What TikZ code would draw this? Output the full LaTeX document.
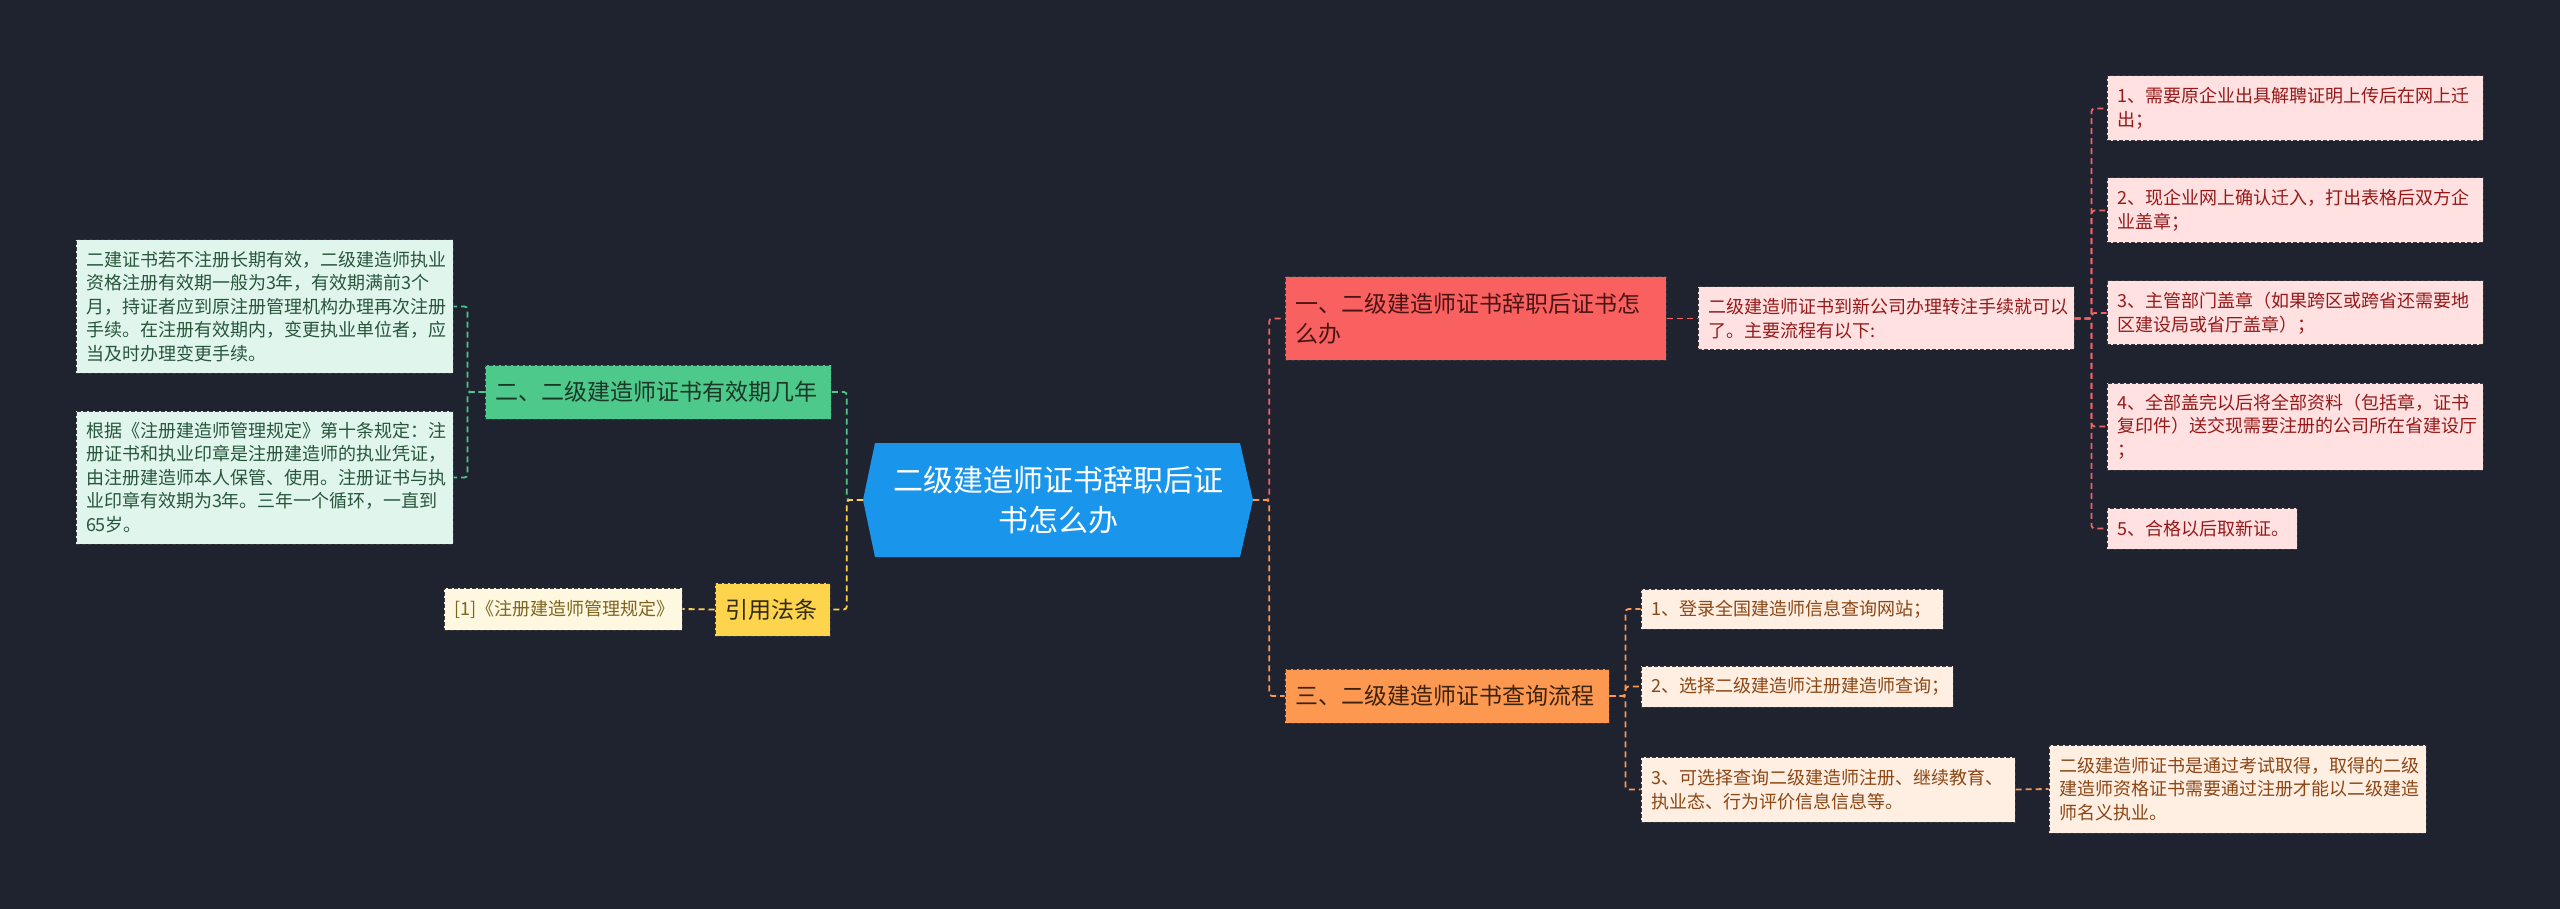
\documentclass[tikz,border=0pt]{standalone}
\usepackage{fontspec}
\newfontfamily\cjkfont{Noto Sans CJK SC}
\definecolor{bgdark}{RGB}{31, 35, 48}
\definecolor{rootblue}{RGB}{26, 149, 236}
\definecolor{boxedge}{RGB}{55, 55, 60}
\definecolor{redfill}{RGB}{249, 96, 96}
\definecolor{redsoft}{RGB}{255, 225, 225}
\definecolor{redink}{RGB}{150, 25, 25}
\definecolor{redtitle}{RGB}{75, 20, 20}
\definecolor{redline}{RGB}{240, 100, 100}
\definecolor{greenfill}{RGB}{76, 201, 139}
\definecolor{greensoft}{RGB}{224, 246, 236}
\definecolor{greenink}{RGB}{40, 85, 60}
\definecolor{greentitle}{RGB}{28, 55, 40}
\definecolor{yellowfill}{RGB}{255, 212, 77}
\definecolor{yellowsoft}{RGB}{255, 248, 224}
\definecolor{yellowink}{RGB}{125, 100, 30}
\definecolor{yellowtitle}{RGB}{50, 42, 20}
\definecolor{orangefill}{RGB}{253, 152, 80}
\definecolor{orangesoft}{RGB}{255, 238, 226}
\definecolor{orangeink}{RGB}{140, 70, 20}
\definecolor{orangetitle}{RGB}{60, 35, 15}
\tikzset{
    box/.style={draw=boxedge, dash pattern=on 4pt off 2pt, line width=1pt,
        inner xsep=10pt, inner ysep=0pt, align=left},
    mainbox/.style={box, font=\cjkfont\fontsize{23}{30}\selectfont},
    leafbox/.style={box, font=\cjkfont\fontsize{18}{23.5}\selectfont},
    link/.style={dash pattern=on 6pt off 4pt, line width=1.8pt,
        rounded corners=3pt},
}

\begin{document}
\begin{tikzpicture}[x=1pt, y=-1pt]
    \fill[bgdark] (0, 0) rectangle (2560, 909);
    \useasboundingbox (0, 0) rectangle (2560, 909);

    % centre
    \fill[rootblue] (863, 500) -- (875, 443) -- (1240, 443) -- (1253, 500)
        -- (1240, 557) -- (875, 557) -- cycle;
    \node[font=\cjkfont\fontsize{30}{40}\selectfont, text=white, align=center,
        minimum width=390pt, minimum height=114pt, inner sep=0pt] (root)
        at (1058, 500) {二级建造师证书辞职后证\\书怎么办};

    % left side
    \node[mainbox, fill=greenfill, text=greentitle, text width=326pt,
        minimum height=54pt] (validity) at (658, 392)
        {二、二级建造师证书有效期几年};
    \node[leafbox, fill=greensoft, text=greenink, text width=357pt,
        minimum height=133pt] (validityA) at (264.5, 306.5)
        {二建证书若不注册长期有效，二级建造师执业\\资格注册有效期一般为3年，有效期满前3个\\月，持证者应到原注册管理机构办理再次注册\\手续。在注册有效期内，变更执业单位者，应\\当及时办理变更手续。};
    \node[leafbox, fill=greensoft, text=greenink, text width=357pt,
        minimum height=133pt] (validityB) at (264.5, 477.5)
        {根据《注册建造师管理规定》第十条规定：注\\册证书和执业印章是注册建造师的执业凭证，\\由注册建造师本人保管、使用。注册证书与执\\业印章有效期为3年。三年一个循环，一直到\\65岁。};
    \node[mainbox, fill=yellowfill, text=yellowtitle, text width=95pt,
        minimum height=53pt] (citation) at (772.5, 609.5) {引用法条};
    \node[leafbox, fill=yellowsoft, text=yellowink, text width=218pt,
        minimum height=42pt] (citationA) at (563, 609)
        {[1]《注册建造师管理规定》};

    % right side
    \node[mainbox, fill=redfill, text=redtitle, text width=361pt,
        minimum height=83pt] (resign) at (1475.5, 318.5)
        {一、二级建造师证书辞职后证书怎\\么办};
    \node[leafbox, fill=redsoft, text=redink, text width=356pt,
        minimum height=63pt] (resignmid) at (1886, 318.5)
        {二级建造师证书到新公司办理转注手续就可以\\了。主要流程有以下:};
    \begin{scope}[every node/.style={leafbox, fill=redsoft, text=redink,
            text width=356pt}]
        \node[minimum height=65pt] (step1) at (2295, 108.5)
            {1、需要原企业出具解聘证明上传后在网上迁\\出；};
        \node[minimum height=65pt] (step2) at (2295, 210.5)
            {2、现企业网上确认迁入，打出表格后双方企\\业盖章；};
        \node[minimum height=64pt] (step3) at (2295, 313)
            {3、主管部门盖章（如果跨区或跨省还需要地\\区建设局或省厅盖章）；};
        \node[minimum height=87pt] (step4) at (2295, 426.5)
            {4、全部盖完以后将全部资料（包括章，证书\\复印件）送交现需要注册的公司所在省建设厅\\；};
        \node[text width=170pt, minimum height=41pt] (step5) at (2202, 528.5)
            {5、合格以后取新证。};
    \end{scope}

    \node[mainbox, fill=orangefill, text=orangetitle, text width=304pt,
        minimum height=54pt] (query) at (1447, 696)
        {三、二级建造师证书查询流程};
    \begin{scope}[every node/.style={leafbox, fill=orangesoft, text=orangeink}]
        \node[text width=282pt, minimum height=40pt] (query1) at (1792, 609)
            {1、登录全国建造师信息查询网站；};
        \node[text width=292pt, minimum height=41pt] (query2) at (1797, 686.5)
            {2、选择二级建造师注册建造师查询；};
        \node[text width=354pt, minimum height=65pt] (query3) at (1828, 789.5)
            {3、可选择查询二级建造师注册、继续教育、\\执业态、行为评价信息信息等。};
        \node[text width=357pt, minimum height=88pt] (queryA) at (2237.5, 789)
            {二级建造师证书是通过考试取得，取得的二级\\建造师资格证书需要通过注册才能以二级建造\\师名义执业。};
    \end{scope}

    % connectors
    \draw[link, greenfill] (root.west) -- ++(-16, 0) |- (validity.east);
    \draw[link, greenfill] (validity.west) -- ++(-17, 0) |- (validityA.east);
    \draw[link, greenfill] (validity.west) -- ++(-17, 0) |- (validityB.east);
    \draw[link, yellowfill] (root.west) -- ++(-16, 0) |- (citation.east);
    \draw[link, yellowfill] (citation.west) -- (citationA.east);
    \draw[link, redline] (root.east) -- ++(16, 0) |- (resign.west);
    \draw[link, redline] (resign.east) -- (resignmid.west);
    \foreach \n in {1, ..., 5}
        \draw[link, redline] (resignmid.east) -- ++(17, 0) |- (step\n.west);
    \draw[link, orangefill] (root.east) -- ++(16, 0) |- (query.west);
    \foreach \n in {1, 2, 3}
        \draw[link, orangefill] (query.east) -- ++(16, 0) |- (query\n.west);
    \draw[link, orangefill] (query3.east) -- (queryA.west);
\end{tikzpicture}
\end{document}
